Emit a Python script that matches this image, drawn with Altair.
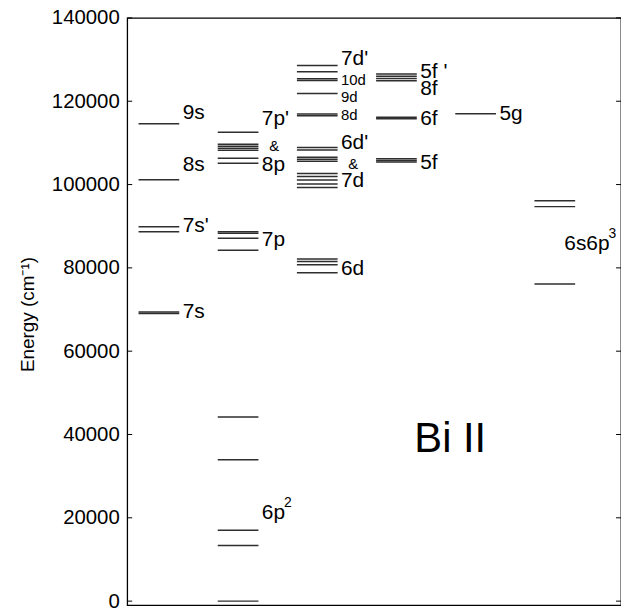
import altair as alt
import pandas as pd

# ---- data (energies in cm^-1) ----
col_s = [114600, 101150, 89870, 88680, 69400, 69050]
col_p = [112550, 109650, 109200, 108700, 108250, 106300, 105100,
         88650, 88300, 87100, 84250,
         44174, 33939, 17030, 13325, 0]
col_d = [128590, 127090, 125400, 125000, 121880, 116930, 116500,
         108910, 108290, 106530, 106060, 105580,
         102650, 101940, 101100, 100150, 99320,
         82110, 81540, 80750, 78850]
col_f = [126560, 126020, 125470, 124920, 116150, 115800, 106200, 105800, 105400]
col_g = [117000]
col_sp3 = [96100, 94700, 76100]

label_text = ["9s", "8s", "7s'", "7s",
              "7p'", "&", "8p", "7p", "6p",
              "7d'", "10d", "9d", "8d", "6d'", "&", "7d", "6d",
              "5f '", "8f", "6f", "5f",
              "5g", "6s6p"]
label_col = [0, 0, 0, 0,
             1, 1, 1, 1, 1,
             2, 2, 2, 2, 2, 2, 2, 2,
             3, 3, 3, 3,
             4, 5]
label_E = [117160, 104790, 90030, 69330,
           115680, 109330, 104670, 86580, 21250,
           130020, 125020, 120970, 116690, 110030, 105030, 100740, 79800,
           126920, 122880, 115740, 105270,
           116930, 85820]

# superscripts attached to labels: (label, superscript)
sup_of = {"6p": "2", "6s6p": "3"}

ion_label = "Bi II"
ion_E = 38860
ion_x = 4.08

tick_values = [0, 20000, 40000, 60000, 80000, 100000, 120000, 140000]

# ---- build tables ----
W, H = 497, 591
XMAX = 6.236
PXU = W / XMAX          # pixels per x unit
HALF = 0.257
FS = 21
columns = [col_s, col_p, col_d, col_f, col_g, col_sp3]
rows = []
for i, arr in enumerate(columns):
    for e in arr:
        rows.append({"col": i, "E": e, "x1": 0.4 + i - HALF, "x2": 0.4 + i + HALF})
levels = pd.DataFrame(rows)

# approximate advance widths (em) of Liberation Sans glyphs used in the labels
adv = {"6": 0.556, "p": 0.556, "s": 0.5}

small = {"10d", "9d", "8d"}
lab_rows, sup_rows, amp_rows = [], [], []
for t, c, e in zip(label_text, label_col, label_E):
    if t == "&":
        amp_rows.append({"t": t, "x": 0.4 + c + 0.455, "E": e})
        continue
    x = 0.4 + c + 0.30
    if t == "6s6p":
        x = 0.4 + c + 0.12
    fs = 15 if t in small else FS
    lab_rows.append({"t": t, "x": x, "E": e, "fs": fs})
    if t in sup_of:
        w = sum(adv[ch] for ch in t) * FS
        sup_rows.append({"t": sup_of[t], "x": x + (w - 1) / PXU, "E": e})
labels = pd.DataFrame(lab_rows)
amps = pd.DataFrame(amp_rows)
sups = pd.DataFrame(sup_rows)

ticks = pd.DataFrame({"v": tick_values})

FONT = "Liberation Sans"
xs = alt.Scale(domain=[0, XMAX], nice=False, zero=False)
ys = alt.Scale(domain=[-950, 140000], nice=False, zero=False)

base_y = alt.Y("E:Q", scale=ys,
               axis=alt.Axis(values=tick_values, format="d", ticks=False, domain=False,
                             grid=False, labelFont=FONT, labelFontSize=20.5,
                             labelColor="black", labelPadding=8,
                             title="Energy (cm⁻¹)", titleFont=FONT, titleFontSize=19,
                             titleFontWeight="normal", titleColor="black",
                             titleAngle=270, titleAlign="center", titleBaseline="middle",
                             titleX=-100, titleY=298))

lines = alt.Chart(levels).mark_rule(color="#2e2e2e", strokeWidth=1.5).encode(
    x=alt.X("x1:Q", scale=xs, axis=None),
    x2="x2:Q",
    y=base_y,
)

text_main = alt.Chart(labels).mark_text(align="left", baseline="middle", font=FONT,
                                        color="black").encode(
    x=alt.X("x:Q", scale=xs),
    y=alt.Y("E:Q", scale=ys),
    text="t:N",
    size=alt.Size("fs:Q", scale=None, legend=None),
)

text_sup = alt.Chart(sups).mark_text(align="left", baseline="middle", font=FONT,
                                     fontSize=14, dy=-10, color="black").encode(
    x=alt.X("x:Q", scale=xs),
    y=alt.Y("E:Q", scale=ys),
    text="t:N",
)

text_amp = alt.Chart(amps).mark_text(align="center", baseline="middle", font=FONT,
                                     fontSize=15, color="black").encode(
    x=alt.X("x:Q", scale=xs),
    y=alt.Y("E:Q", scale=ys),
    text="t:N",
)

ion = alt.Chart(pd.DataFrame({"t": [ion_label], "x": [ion_x], "E": [ion_E]})).mark_text(
    align="center", baseline="middle", font=FONT, fontSize=42, color="black").encode(
    x=alt.X("x:Q", scale=xs),
    y=alt.Y("E:Q", scale=ys),
    text="t:N",
)

tick_l = alt.Chart(ticks).mark_rule(color="black", strokeWidth=1).encode(
    x=alt.value(0), x2=alt.value(5), y=alt.Y("v:Q", scale=ys))
tick_r = alt.Chart(ticks).mark_rule(color="black", strokeWidth=1).encode(
    x=alt.value(W - 5), x2=alt.value(W), y=alt.Y("v:Q", scale=ys))

chart = alt.layer(lines, tick_l, tick_r, text_main, text_sup, text_amp, ion).properties(
    width=W, height=H,
    autosize=alt.AutoSizeParams(type="none"),
    padding={"left": 120, "top": 8, "right": 0, "bottom": 8},
).configure(background="white",
            view=alt.ViewConfig(stroke="black", strokeWidth=1.3))

chart.save("out.html", embed_options={"renderer": "svg", "actions": False})
